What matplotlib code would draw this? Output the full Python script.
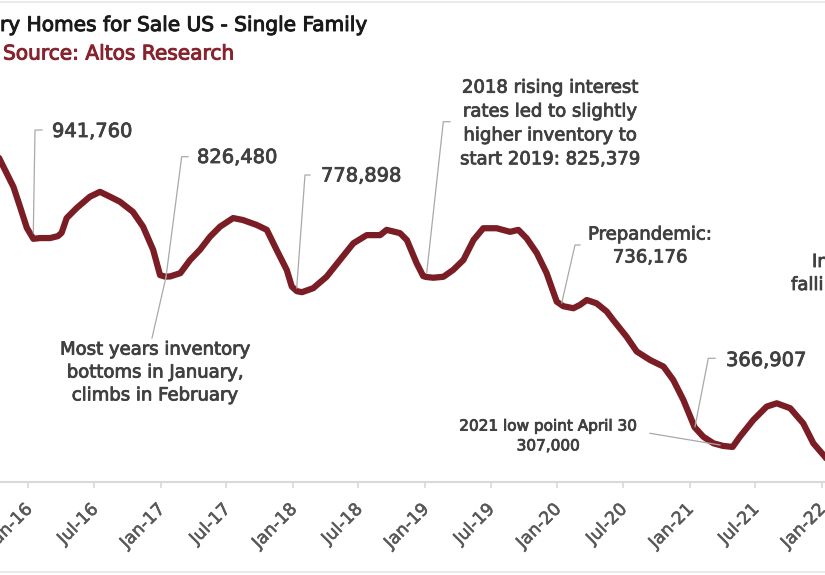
import matplotlib
matplotlib.use("Agg")
import matplotlib.pyplot as plt
import matplotlib.patheffects as pe
import matplotlib.transforms as mtransforms
from matplotlib.lines import Line2D
import pandas as pd

# ---------------- data ----------------
dates = [
    "2015-10-01", "2015-10-15", "2015-11-21", "2015-12-09", "2015-12-28",
    "2016-01-15", "2016-02-02", "2016-03-01", "2016-03-23", "2016-04-02",
    "2016-04-16", "2016-05-14", "2016-06-19", "2016-07-17", "2016-08-14",
    "2016-09-10", "2016-10-16", "2016-11-13", "2016-12-11", "2016-12-30",
    "2017-01-13", "2017-01-27", "2017-02-24", "2017-03-23", "2017-04-19",
    "2017-05-17", "2017-06-14", "2017-07-20", "2017-08-16", "2017-09-23",
    "2017-10-21", "2017-11-17", "2017-12-15", "2017-12-29", "2018-01-12",
    "2018-01-26", "2018-02-26", "2018-04-04", "2018-05-11", "2018-06-17",
    "2018-07-24", "2018-08-30", "2018-09-17", "2018-10-24", "2018-11-12",
    "2018-12-09", "2018-12-27", "2019-01-04", "2019-01-24", "2019-02-21",
    "2019-03-20", "2019-04-17", "2019-05-15", "2019-06-11", "2019-07-18",
    "2019-08-24", "2019-09-16", "2019-10-09", "2019-11-06", "2019-12-03",
    "2019-12-31", "2020-01-18", "2020-02-15", "2020-03-04", "2020-03-23",
    "2020-04-19", "2020-05-17", "2020-06-04", "2020-07-11", "2020-08-08",
    "2020-09-14", "2020-10-21", "2020-11-17", "2020-12-15", "2021-01-15",
    "2021-02-08", "2021-03-08", "2021-04-04", "2021-04-30", "2021-05-20",
    "2021-06-26", "2021-08-02", "2021-08-30", "2021-10-06", "2021-11-11",
    "2021-12-09", "2022-01-10", "2022-01-20",
]
inventory = [
    1213000, 1182000, 1100000, 1040000, 975000,
    941760, 944000, 944000, 950000, 960000,
    1005000, 1036000, 1070000, 1085000, 1070000,
    1055000, 1024000, 979000, 908000, 831000,
    826480, 827000, 837000, 877000, 908000,
    948000, 979000, 1005000, 999000, 984000,
    969000, 908000, 847000, 796000, 782000,
    778898, 791000, 826000, 877000, 928000,
    953000, 953000, 969000, 959000, 938000,
    867000, 828000, 825379, 823000, 826000,
    847000, 877000, 938000, 974000, 974000,
    963000, 969000, 943000, 898000, 837000,
    750000, 736176, 730000, 740000, 755000,
    745000, 720000, 694000, 643000, 598000,
    572000, 552000, 511000, 450000, 366907,
    338000, 318000, 310000, 307000, 338000,
    389000, 430000, 440000, 425000, 379000,
    318000, 277000, 262000,
]
tick_dates = ["2016-01-01", "2016-07-01", "2017-01-01", "2017-07-01",
              "2018-01-01", "2018-07-01", "2019-01-01", "2019-07-01",
              "2020-01-01", "2020-07-01", "2021-01-01", "2021-07-01",
              "2022-01-01"]
tick_labels = ["Jan-16", "Jul-16", "Jan-17", "Jul-17", "Jan-18", "Jul-18",
               "Jan-19", "Jul-19", "Jan-20", "Jul-20", "Jan-21", "Jul-21",
               "Jan-22"]

title_text = "ry Homes for Sale US - Single Family"
source_text = "Source: Altos Research"

# ---------------- figure ----------------
W, H = 825, 575
fig = plt.figure(figsize=(W / 100, H / 100), dpi=100)
fig.patch.set_facecolor("white")


def fx(px):
    return px / W


def fy(py):
    return 1 - py / H


AX_BOTTOM_PX = 482
ax = fig.add_axes([0, fy(AX_BOTTOM_PX), 1, fy(0) - fy(AX_BOTTOM_PX)])
ax.set_facecolor("none")

origin = pd.Timestamp("2016-01-01")
px_per_year = 132.2
jan16_px = 28.3
x_left = origin + pd.Timedelta(days=(0 - jan16_px) * 365.25 / px_per_year)
x_right = origin + pd.Timedelta(days=(W - jan16_px) * 365.25 / px_per_year)
ax.set_xlim(x_left, x_right)
ax.set_ylim(200000, 200000 + AX_BOTTOM_PX * 3050)

ax.plot(pd.to_datetime(dates), inventory, color="#7A1D24", lw=4.5,
        solid_joinstyle="round", solid_capstyle="round", zorder=3)

for s in ["left", "right", "top"]:
    ax.spines[s].set_visible(False)
ax.spines["bottom"].set_color("#d9d9d9")
ax.spines["bottom"].set_linewidth(1.5)
ax.set_yticks([])
ax.set_xticks(pd.to_datetime(tick_dates))
ax.set_xticklabels(tick_labels, rotation=45, ha="right", va="top",
                   rotation_mode="anchor", fontsize=12.5, color="#595959",
                   family="DejaVu Sans")
ax.tick_params(axis="x", colors="#d9d9d9", length=4, width=1.2, pad=9,
               labelcolor="#595959")
shift = mtransforms.ScaledTranslation(-5 / 100, 0, fig.dpi_scale_trans)
for lab in ax.get_xticklabels():
    lab.set_transform(lab.get_transform() + shift)
    lab.set_path_effects([pe.withStroke(linewidth=0.4, foreground="#595959")])

# ---------------- titles ----------------
fig.text(fx(0), fy(25.5), title_text, ha="left", va="center", fontsize=14.5,
         color="#1a1a1a", family="DejaVu Sans",
         path_effects=[pe.withStroke(linewidth=0.7, foreground="#1a1a1a")])
fig.text(fx(3), fy(54), source_text, ha="left", va="center", fontsize=14.5,
         color="#86232E", family="DejaVu Sans",
         path_effects=[pe.withStroke(linewidth=0.7, foreground="#86232E")])

# frame lines
fig.add_artist(Line2D([0, 1], [fy(2), fy(2)], color="#e6e6e6", lw=1.2))
fig.add_artist(Line2D([0, 1], [fy(572), fy(572)], color="#e6e6e6", lw=1.2))

# ---------------- annotations ----------------
ACOL = "#404040"
LCOL = "#a9a9a9"
STROKE = [pe.withStroke(linewidth=0.6, foreground=ACOL)]


def leader(points):
    xs = [fx(p[0]) for p in points]
    ys = [fy(p[1]) for p in points]
    fig.add_artist(Line2D(xs, ys, color=LCOL, lw=0.9, zorder=2))


def label(x, y, s, ha="left", size=13, ls=1.2):
    fig.text(fx(x), fy(y), s, ha=ha, va="center", fontsize=size, color=ACOL,
             family="DejaVu Sans", linespacing=ls, multialignment="center",
             path_effects=STROKE)


label(52, 131.5, "941,760", size=14)
leader([(42, 130), (35, 130), (33.3, 233)])

label(197, 157.5, "826,480", size=14)
leader([(188, 156.7), (181.7, 156.7), (166, 277)])
leader([(166, 277), (152, 338)])

label(321, 176, "778,898", size=14)
leader([(310, 175), (305, 175), (296.7, 288)])

label(550, 123.5, "2018 rising interest\nrates led to slightly\nhigher inventory to\nstart 2019: 825,379",
      ha="center", size=13, ls=1.42)
leader([(450, 121.7), (443.3, 121.7), (426.7, 273)])

label(650, 246, "Prepandemic:\n736,176", ha="center", size=13, ls=1.35)
leader([(580, 245), (575, 245), (561.7, 303)])

label(726, 360.5, "366,907", size=14)
leader([(715, 358.3), (708.3, 358.3), (695, 426.7)])

label(548, 436, "2021 low point April 30\n307,000", ha="center", size=11, ls=1.4)
leader([(650, 433.3), (720, 445)])

label(155, 372.5, "Most years inventory\nbottoms in January,\nclimbs in February",
      ha="center", size=13, ls=1.35)

label(812, 262, "In", size=13)
label(791, 285, "falli", size=13)

fig.savefig("out.png", dpi=100)
